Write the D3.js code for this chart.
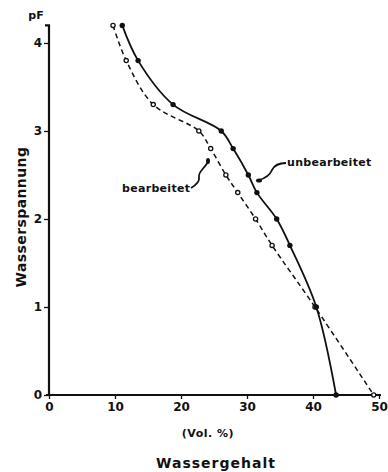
<!DOCTYPE html>
<html><head><meta charset="utf-8">
<script src="https://cdn.jsdelivr.net/npm/d3@7"></script>
<style>
body{margin:0;background:#fff;}
text{font-family:"DejaVu Sans",sans-serif;font-weight:bold;fill:#111;}
</style></head>
<body><svg id="c" width="388" height="472"></svg>
<script>
// Data
const unbearbeitetX = [11.1, 13.5, 18.8, 26.1, 27.9, 30.2, 31.5, 34.5, 36.5, 40.5, 43.5];
const unbearbeitetY = [4.2, 3.8, 3.3, 3.0, 2.8, 2.5, 2.3, 2.0, 1.7, 1.0, 0.0];
const bearbeitetX = [9.7, 11.7, 15.8, 22.7, 24.5, 26.8, 28.6, 31.3, 33.8, 40.3, 49.2];
const bearbeitetY = [4.2, 3.8, 3.3, 3.0, 2.8, 2.5, 2.3, 2.0, 1.7, 1.0, 0.0];
const xTicks = [0, 10, 20, 30, 40, 50];
const yTicks = [0, 1, 2, 3, 4];
const labels = {x: "Wassergehalt", xUnit: "(Vol. %)", y: "Wasserspannung", yUnit: "pF"};

const svg = d3.select("#c");
const x = d3.scaleLinear().domain([0, 50]).range([49, 379]);
const y = d3.scaleLinear().domain([0, 4]).range([395, 43]);
const ink = "#111";

// Axes
const xAxis = svg.append("g").attr("transform", `translate(0,${y(0)})`)
  .call(d3.axisBottom(x).tickValues(xTicks).tickSize(4).tickPadding(3).tickFormat(d3.format("d")));
const yAxis = svg.append("g").attr("transform", `translate(${x(0)},0)`)
  .call(d3.axisLeft(y).tickValues(yTicks).tickSize(5).tickPadding(2).tickFormat(d3.format("d")));
[xAxis, yAxis].forEach(g => {
  g.select(".domain").remove();
  g.selectAll("line").attr("stroke", ink).attr("stroke-width", 1.3);
  g.selectAll("text").style("font-size", "12px").style("font-weight", "bold")
    .style("font-family", '"DejaVu Sans",sans-serif').attr("fill", ink);
});
// axis lines
svg.append("line").attr("x1", x(0) - 3).attr("x2", x(50) + 2).attr("y1", y(0)).attr("y2", y(0))
  .attr("stroke", ink).attr("stroke-width", 2.2);
svg.append("path").attr("d", `M${x(0) - 4},${y(4.2)}H${x(0)}V${y(0)}`)
  .attr("fill", "none").attr("stroke", ink).attr("stroke-width", 2.2);

// Lines
const mk = (xs, ys) => xs.map((v, i) => [v, ys[i]]);
const uData = mk(unbearbeitetX, unbearbeitetY);
const bData = mk(bearbeitetX, bearbeitetY);
const line = d3.line().x(d => x(d[0])).y(d => y(d[1])).curve(d3.curveCatmullRom.alpha(0.5));

svg.append("path").attr("d", line(bData)).attr("fill", "none").attr("stroke", ink)
  .attr("stroke-width", 1.5).attr("stroke-dasharray", "5,3.5");
svg.append("path").attr("d", line(uData)).attr("fill", "none").attr("stroke", ink)
  .attr("stroke-width", 1.8);

svg.append("g").selectAll("circle").data(bData).join("circle")
  .attr("cx", d => x(d[0])).attr("cy", d => y(d[1])).attr("r", 2.1)
  .attr("fill", "#fff").attr("stroke", ink).attr("stroke-width", 1.3);
svg.append("g").selectAll("circle").data(uData).join("circle")
  .attr("cx", d => x(d[0])).attr("cy", d => y(d[1])).attr("r", 2.7)
  .attr("fill", ink);

// Annotations
svg.append("text").attr("x", 287).attr("y", 166).style("font-size", "11px").style("letter-spacing", "0.3px").text("unbearbeitet");
svg.append("path").attr("d", "M286,163 C278,163 274,166 272,170 C270,175 266,178 259,180")
  .attr("fill", "none").attr("stroke", ink).attr("stroke-width", 1.8);
svg.append("ellipse").attr("cx", 259).attr("cy", 180.5).attr("rx", 3).attr("ry", 2).attr("fill", ink);

svg.append("text").attr("x", 122).attr("y", 192).style("font-size", "11px").style("letter-spacing", "0.3px").text("bearbeitet");
svg.append("path").attr("d", "M191,188 C196,185 200,182 199,177 C198,172 203,170 208,162")
  .attr("fill", "none").attr("stroke", ink).attr("stroke-width", 1.8);
svg.append("ellipse").attr("cx", 208).attr("cy", 161).attr("rx", 2).attr("ry", 3).attr("fill", ink);

// Axis titles
svg.append("text").attr("x", 36).attr("y", 19).attr("text-anchor", "middle").style("font-size", "11px").text(labels.yUnit);
svg.append("text").attr("transform", "translate(26,217) rotate(-90)").attr("text-anchor", "middle")
  .style("font-size", "14px").style("letter-spacing", "0.4px").text(labels.y);
svg.append("text").attr("x", 208).attr("y", 437).attr("text-anchor", "middle").style("font-size", "11px").style("letter-spacing", "0.5px").text(labels.xUnit);
svg.append("text").attr("x", 216).attr("y", 468).attr("text-anchor", "middle")
  .style("font-size", "14px").style("letter-spacing", "1px").text(labels.x);
</script></body></html>
